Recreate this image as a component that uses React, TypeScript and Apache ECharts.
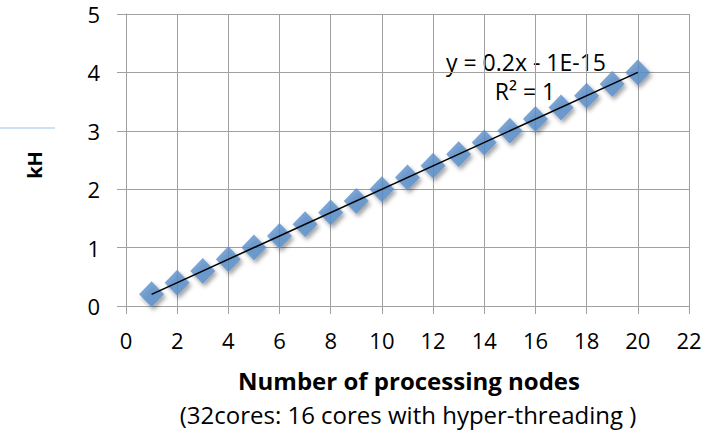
import React, { useEffect, useRef } from "react";
import * as echarts from "echarts";

const nodes = [1, 2, 3, 4, 5, 6, 7, 8, 9, 10, 11, 12, 13, 14, 15, 16, 17, 18, 19, 20];
const kH = [0.2, 0.4, 0.6, 0.8, 1.0, 1.2, 1.4, 1.6, 1.8, 2.0, 2.2, 2.4, 2.6, 2.8, 3.0, 3.2, 3.4, 3.6, 3.8, 4.0];
const equationText = "y = 0.2x - 1E-15";
const r2Text = "R² = 1";
const xTitle = "Number of processing nodes";
const xSubtitle = "(32cores: 16 cores with hyper-threading )";
const yTitle = "kH";

const FONT = "Open Sans";

export default function App() {
  const ref = useRef<HTMLDivElement>(null);
  useEffect(() => {
    if (!ref.current) return;
    const chart = echarts.init(ref.current, null, { renderer: "svg" });
    const n = nodes.length;
    const mx = nodes.reduce((a, b) => a + b, 0) / n;
    const my = kH.reduce((a, b) => a + b, 0) / n;
    let sxy = 0, sxx = 0;
    for (let i = 0; i < n; i++) {
      sxy += (nodes[i] - mx) * (kH[i] - my);
      sxx += (nodes[i] - mx) * (nodes[i] - mx);
    }
    const slope = sxy / sxx;
    const intercept = my - slope * mx;
    const x0 = nodes[0];
    const x1 = nodes[n - 1];
    const trend = [
      [x0, slope * x0 + intercept],
      [x1, slope * x1 + intercept],
    ];
    const gridColor = "#a0a0a0";
    chart.setOption({
      animation: false,
      backgroundColor: "#ffffff",
      grid: { left: 126, right: 25, top: 14, bottom: 127 },
      xAxis: {
        type: "value",
        min: 0,
        max: 22,
        interval: 2,
        axisLine: { show: true, onZero: false, lineStyle: { color: gridColor, width: 1 } },
        axisTick: { show: true, inside: false, length: 8, lineStyle: { color: gridColor } },
        splitLine: { show: true, lineStyle: { color: gridColor, width: 1 } },
        axisLabel: { color: "#000", fontFamily: FONT, fontSize: 22, margin: 23 },
      },
      yAxis: {
        type: "value",
        min: 0,
        max: 5,
        interval: 1,
        axisLine: { show: true, lineStyle: { color: gridColor, width: 1 } },
        axisTick: { show: true, inside: false, length: 9, lineStyle: { color: gridColor } },
        splitLine: { show: true, lineStyle: { color: gridColor, width: 1 } },
        axisLabel: { color: "#000", fontFamily: FONT, fontSize: 22, margin: 26 },
      },
      series: [
        {
          type: "scatter",
          data: nodes.map((x, i) => [x, kH[i]]),
          symbol: "diamond",
          symbolSize: [25, 26],
          itemStyle: {
            color: "#5b8fca",
            shadowBlur: 4,
            shadowColor: "rgba(0,0,0,0.45)",
            shadowOffsetX: 2,
            shadowOffsetY: 3,
          },
          z: 2,
        },
        {
          type: "line",
          data: trend,
          symbol: "none",
          lineStyle: { color: "#000", width: 1.5 },
          z: 3,
        },
      ],
      graphic: [
        {
          type: "line",
          shape: { x1: 0, y1: 128, x2: 55, y2: 128 },
          style: { stroke: "#9dc3e6", lineWidth: 1 },
        },
        {
          type: "text",
          x: 34,
          y: 165,
          rotation: Math.PI / 2,
          style: {
            text: yTitle,
            fontFamily: FONT,
            fontSize: 20,
            fontWeight: "bold",
            fill: "#000",
            align: "center",
            verticalAlign: "middle",
          },
        },
        {
          type: "text",
          x: 526,
          y: 62,
          style: {
            text: equationText,
            fontFamily: FONT,
            fontSize: 23,
            lineHeight: 24,
            fill: "#000",
            align: "center",
            verticalAlign: "middle",
          },
        },
        {
          type: "text",
          x: 525,
          y: 91,
          style: {
            text: r2Text,
            fontFamily: FONT,
            fontSize: 23,
            lineHeight: 24,
            fill: "#000",
            align: "center",
            verticalAlign: "middle",
          },
        },
        {
          type: "text",
          x: 409,
          y: 380,
          style: {
            text: xTitle,
            fontFamily: FONT,
            fontSize: 24,
            lineHeight: 22,
            fontWeight: "bold",
            fill: "#000",
            align: "center",
            verticalAlign: "middle",
          },
        },
        {
          type: "text",
          x: 408,
          y: 414,
          style: {
            text: xSubtitle,
            fontFamily: FONT,
            fontSize: 24,
            lineHeight: 22,
            fill: "#000",
            align: "center",
            verticalAlign: "middle",
          },
        },
      ],
    });
    return () => chart.dispose();
  }, []);
  return (
    <div
      ref={ref}
      style={{ position: "absolute", left: 0, top: 0, width: 714, height: 433 }}
    />
  );
}
